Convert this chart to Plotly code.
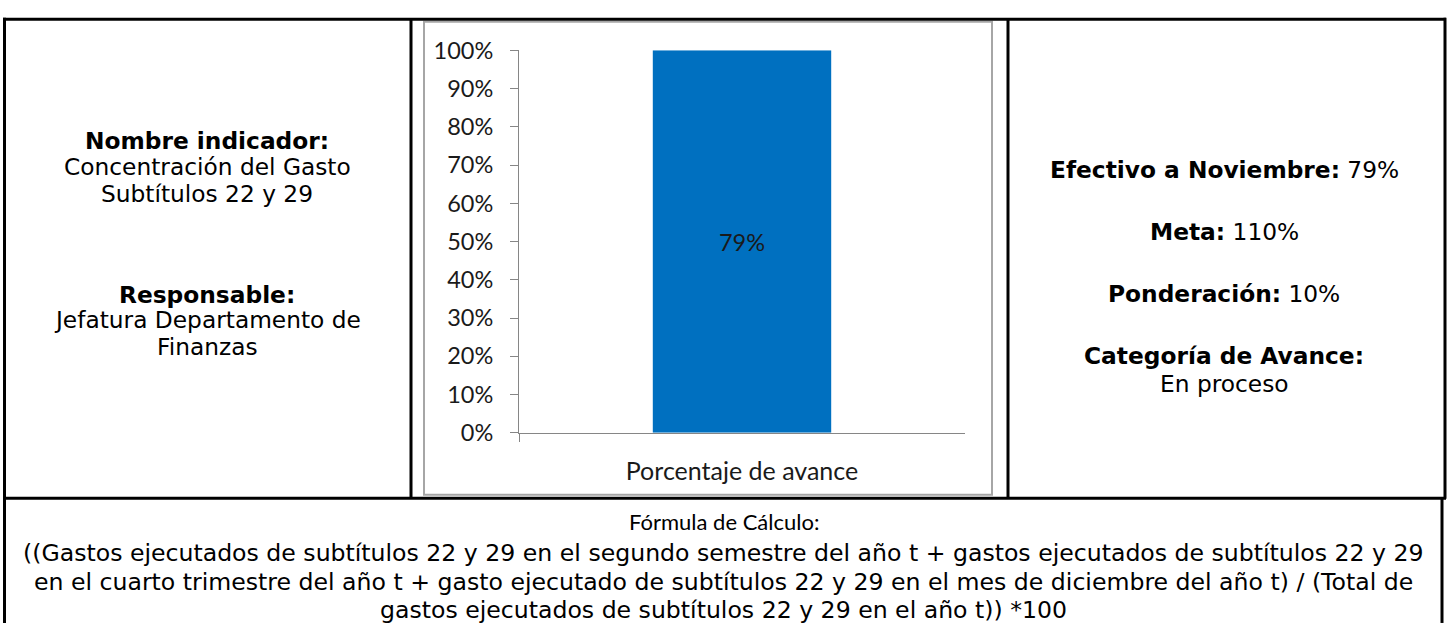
import plotly.graph_objects as go

W, H = 1451, 635

# ---- data ----
categories = ["Porcentaje de avance"]
values = [1.0]
bar_labels = ["79%"]
y_tick_values = [0, 0.1, 0.2, 0.3, 0.4, 0.5, 0.6, 0.7, 0.8, 0.9, 1.0]
y_tick_labels = ["0%", "10%", "20%", "30%", "40%", "50%", "60%", "70%", "80%", "90%", "100%"]

left_lines = [
    "<b>Nombre indicador:</b>",
    "Concentración del Gasto",
    "Subtítulos 22 y 29",
    "<b>Responsable:</b>",
    "Jefatura Departamento de",
    "Finanzas",
]
right_lines = [
    "<b>Efectivo a Noviembre:</b> 79%",
    "<b>Meta:</b> 110%",
    "<b>Ponderación:</b> 10%",
    "<b>Categoría de Avance:</b>",
    "En proceso",
]
formula_title = "Fórmula de Cálculo:"
formula_lines = [
    "((Gastos ejecutados de subtítulos 22 y 29 en el segundo semestre del año t + gastos ejecutados de subtítulos 22 y 29",
    "en el cuarto trimestre del año t + gasto ejecutado de subtítulos 22 y 29 en el mes de diciembre del año t) / (Total de",
    "gastos ejecutados de subtítulos 22 y 29 en el año t)) *100",
]

# ---- layout helpers ----
def px(x):
    return x / W

def py(y):
    return 1 - y / H

TABLE_FONT = "DejaVu Sans, Verdana, sans-serif"
CHART_FONT = "Lato, Carlito, sans-serif"
TXT = "#000000"
CHART_TXT = "#1a1a1a"

fig = go.Figure(
    go.Bar(
        x=categories,
        y=values,
        text=bar_labels,
        textposition="inside",
        insidetextanchor="middle",
        insidetextfont=dict(family=CHART_FONT, size=23.5, color=CHART_TXT),
        marker=dict(color="#0070C0", line=dict(width=0)),
        width=0.4,
        hoverinfo="skip",
    )
)

axis_gray = "#868686"
fig.update_layout(
    width=W,
    height=H,
    autosize=False,
    margin=dict(l=0, r=0, t=0, b=0),
    paper_bgcolor="white",
    plot_bgcolor="white",
    showlegend=False,
    xaxis=dict(
        domain=[px(519), px(965)],
        type="category",
        range=[-0.5, 0.5],
        tickson="boundaries",
        ticks="outside",
        ticklen=8,
        tickcolor=axis_gray,
        showline=True,
        linecolor=axis_gray,
        linewidth=1,
        showgrid=False,
        zeroline=False,
        tickfont=dict(family=CHART_FONT, size=25, color=CHART_TXT),
        ticklabelstandoff=16,
        fixedrange=True,
    ),
    yaxis=dict(
        domain=[py(437), py(37)],
        range=[0, 1],
        tickvals=y_tick_values,
        ticktext=y_tick_labels,
        ticks="outside",
        ticklen=8,
        tickcolor=axis_gray,
        showline=True,
        linecolor=axis_gray,
        linewidth=1,
        showgrid=False,
        zeroline=False,
        tickfont=dict(family=CHART_FONT, size=23.5, color=CHART_TXT),
        ticklabelstandoff=12,
        fixedrange=True,
    ),
)

shapes = []

def hline(x0, x1, y, color="black", w=3):
    shapes.append(dict(type="line", xref="paper", yref="paper",
                       x0=px(x0), x1=px(x1), y0=py(y), y1=py(y),
                       line=dict(color=color, width=w)))

def vline(x, y0, y1, color="black", w=3):
    shapes.append(dict(type="line", xref="paper", yref="paper",
                       x0=px(x), x1=px(x), y0=py(y0), y1=py(y1),
                       line=dict(color=color, width=w)))

# table borders
hline(3, 1446, 4.5)
vline(4.5, 3, 636)
vline(411, 4, 506)
vline(1008, 4, 506)
vline(1445, 3, 506)
hline(3, 1446, 505.5)
vline(1442, 505, 636)

# chart frame
shapes.append(dict(type="rect", xref="paper", yref="paper",
                   x0=px(424), x1=px(992), y0=py(502), y1=py(7),
                   line=dict(color="#a6a6a6", width=2), fillcolor="rgba(0,0,0,0)",
                   layer="below"))

fig.update_layout(shapes=shapes)

annotations = []

def text(x, y, s, size=23.3, family=TABLE_FONT):
    annotations.append(dict(xref="paper", yref="paper", x=px(x), y=py(y),
                            text=s, showarrow=False, xanchor="center", yanchor="middle",
                            font=dict(family=family, size=size, color=TXT)))

left_y = [131, 159, 187, 292, 319, 347]
for s, y in zip(left_lines, left_y):
    text(207, y, s)

right_y = [162, 227, 291, 356, 385]
for s, y in zip(right_lines, right_y):
    text(1224, y, s)

text(724, 530, formula_title, size=22, family=CHART_FONT)
formula_y = [563, 593, 622]
for s, y in zip(formula_lines, formula_y):
    text(723, y, s, size=23.6)

fig.update_layout(annotations=annotations)

fig.write_html(
    "out.html",
    config={"displayModeBar": False, "staticPlot": True},
    post_script="document.body.style.margin='0';document.documentElement.style.overflow='hidden';",
)
